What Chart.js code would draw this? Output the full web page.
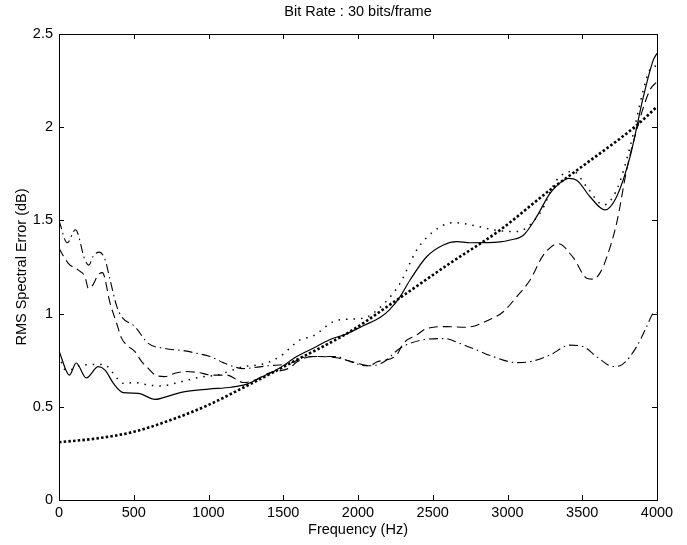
<!DOCTYPE html>
<html>
<head>
<meta charset="utf-8">
<script src="https://cdn.jsdelivr.net/npm/chart.js@4.4.0/dist/chart.umd.min.js"></script>
<style>
  html, body { margin: 0; padding: 0; background: #fff; }
  #c { display: block; }
</style>
</head>
<body>
<canvas id="c" width="687" height="545"></canvas>
<script>
// Tick values
const xTicks = [0, 500, 1000, 1500, 2000, 2500, 3000, 3500, 4000];
const yTicks = [0, 0.5, 1, 1.5, 2, 2.5];

// Solid curve
const solidFreq = [0, 70, 115, 182, 263, 308, 364, 430, 530, 642, 753, 843, 1000, 1150, 1250, 1370, 1480, 1590, 1700, 1810, 1920, 2035, 2150, 2210, 2281, 2348, 2459, 2571, 2660, 2750, 2950, 3017, 3106, 3195, 3284, 3350, 3410, 3463, 3552, 3652, 3730, 3820, 3909, 3975, 4000];
const solidErr  = [0.80, 0.67, 0.735, 0.655, 0.715, 0.697, 0.626, 0.576, 0.572, 0.540, 0.563, 0.581, 0.595, 0.605, 0.62, 0.665, 0.71, 0.77, 0.814, 0.86, 0.89, 0.935, 0.98, 1.02, 1.09, 1.18, 1.305, 1.368, 1.386, 1.38, 1.385, 1.395, 1.42, 1.52, 1.645, 1.70, 1.725, 1.716, 1.627, 1.556, 1.627, 1.842, 2.164, 2.36, 2.396];

// Sparse dotted curve
const dotFreq = [0, 40, 80, 130, 263, 308, 353, 430, 508, 597, 686, 775, 843, 950, 1055, 1233, 1367, 1478, 1612, 1700, 1835, 1924, 2035, 2169, 2281, 2392, 2504, 2638, 2816, 2905, 3061, 3217, 3329, 3440, 3530, 3641, 3730, 3820, 3909, 3953, 4000];
const dotErr  = [0.78, 0.70, 0.70, 0.72, 0.727, 0.725, 0.689, 0.626, 0.63, 0.617, 0.612, 0.626, 0.64, 0.66, 0.67, 0.715, 0.73, 0.77, 0.859, 0.88, 0.957, 0.97, 0.975, 1.05, 1.162, 1.34, 1.44, 1.488, 1.466, 1.449, 1.44, 1.538, 1.717, 1.763, 1.68, 1.583, 1.663, 1.895, 2.2, 2.31, 2.33];

// Dashed curve
const dashFreq = [0, 62, 129, 174, 196, 219, 263, 290, 342, 386, 419, 452, 508, 553, 597, 642, 708, 775, 843, 920, 1032, 1122, 1190, 1233, 1300, 1400, 1546, 1590, 1700, 1856, 1923, 2035, 2080, 2124, 2258, 2303, 2392, 2459, 2593, 2727, 2860, 2972, 3061, 3151, 3240, 3340, 3440, 3530, 3575, 3620, 3663, 3730, 3797, 3864, 3953, 4000];
const dashErr  = [1.35, 1.27, 1.233, 1.198, 1.136, 1.145, 1.208, 1.22, 1.055, 0.947, 0.867, 0.832, 0.796, 0.742, 0.706, 0.671, 0.662, 0.68, 0.689, 0.685, 0.67, 0.67, 0.645, 0.63, 0.64, 0.68, 0.71, 0.74, 0.77, 0.763, 0.75, 0.725, 0.72, 0.74, 0.777, 0.84, 0.885, 0.92, 0.93, 0.927, 0.96, 1.01, 1.09, 1.18, 1.314, 1.375, 1.30, 1.19, 1.185, 1.22, 1.30, 1.485, 1.77, 1.985, 2.2, 2.244];

// Dash-dot curve
const dashDotFreq = [0, 55, 110, 174, 200, 230, 270, 308, 342, 386, 419, 508, 597, 708, 843, 920, 1010, 1099, 1166, 1233, 1300, 1400, 1546, 1657, 1857, 1924, 2057, 2150, 2281, 2348, 2437, 2580, 2682, 2793, 2905, 3061, 3151, 3284, 3418, 3507, 3596, 3708, 3764, 3864, 3931, 3976, 4000];
const dashDotErr  = [1.50, 1.38, 1.45, 1.287, 1.26, 1.31, 1.33, 1.29, 1.18, 1.04, 0.983, 0.93, 0.84, 0.813, 0.80, 0.787, 0.77, 0.737, 0.716, 0.705, 0.71, 0.72, 0.733, 0.769, 0.77, 0.75, 0.72, 0.73, 0.814, 0.84, 0.86, 0.866, 0.84, 0.805, 0.769, 0.737, 0.742, 0.778, 0.831, 0.823, 0.769, 0.716, 0.725, 0.823, 0.93, 1.002, 1.006];

// Thick "+" marked curve
const plusFreq = [0, 250, 500, 750, 1000, 1250, 1344, 1567, 1946, 2259, 2615, 2950, 3284, 3500, 3864, 4000];
const plusErr  = [0.31, 0.33, 0.366, 0.43, 0.51, 0.61, 0.648, 0.742, 0.903, 1.073, 1.27, 1.448, 1.663, 1.79, 2.01, 2.11];

function pts(xs, ys) {
  return xs.map((x, i) => ({ x: x, y: ys[i] }));
}

function curve(xs, ys, dash, width) {
  return {
    data: pts(xs, ys),
    borderColor: '#000',
    borderWidth: width,
    borderDash: dash,
    pointRadius: 0,
    fill: false,
    cubicInterpolationMode: 'monotone'
  };
}

// Box around the plot with inward ticks on every side
const frameTicks = {
  id: 'frameTicks',
  afterDraw(chart) {
    const { ctx, chartArea: a, scales: { x, y } } = chart;
    const len = 5;
    ctx.save();
    ctx.strokeStyle = '#000';
    ctx.lineWidth = 1;
    ctx.strokeRect(a.left + 0.5, a.top + 0.5, a.right - a.left, a.bottom - a.top);
    ctx.beginPath();
    xTicks.forEach(v => {
      const px = Math.round(x.getPixelForValue(v)) + 0.5;
      ctx.moveTo(px, a.bottom); ctx.lineTo(px, a.bottom - len);
      ctx.moveTo(px, a.top); ctx.lineTo(px, a.top + len);
    });
    yTicks.forEach(v => {
      const py = Math.round(y.getPixelForValue(v)) + 0.5;
      ctx.moveTo(a.left, py); ctx.lineTo(a.left + len, py);
      ctx.moveTo(a.right, py); ctx.lineTo(a.right - len, py);
    });
    ctx.stroke();
    ctx.restore();
  }
};

const font = { family: 'Liberation Sans, Arial, sans-serif', size: 14.5 };

new Chart(document.getElementById('c'), {
  type: 'line',
  data: {
    datasets: [
      curve(plusFreq, plusErr, [2.5, 2.2], 2.6),
      curve(dotFreq, dotErr, [1.5, 6], 1.5),
      curve(dashFreq, dashErr, [9, 5], 1.1),
      curve(dashDotFreq, dashDotErr, [9, 4, 1.5, 4], 1.1),
      curve(solidFreq, solidErr, [], 1.2)
    ]
  },
  options: {
    responsive: false,
    animation: false,
    layout: { padding: { right: 30 } },
    plugins: {
      legend: { display: false },
      tooltip: { enabled: false },
      title: {
        display: true,
        text: 'Bit Rate : 30 bits/frame',
        fullSize: false,
        color: '#000',
        font: { family: font.family, size: 14.5, weight: 'normal' },
        padding: { top: 3.3, bottom: 13.3 }
      }
    },
    scales: {
      x: {
        type: 'linear',
        min: 0,
        max: 4000,
        afterBuildTicks: s => { s.ticks = xTicks.map(v => ({ value: v })); },
        afterFit: s => { s.height = 45; },
        grid: { display: false, drawTicks: false },
        border: { display: false },
        ticks: { color: '#000', font: font, padding: 4, maxRotation: 0, callback: v => String(v) },
        title: {
          display: true,
          text: 'Frequency (Hz)',
          color: '#000',
          font: font,
          padding: { top: 0, bottom: 6.3 }
        }
      },
      y: {
        min: 0,
        max: 2.5,
        afterBuildTicks: s => { s.ticks = yTicks.map(v => ({ value: v })); },
        afterFit: s => { s.width = 59; },
        grid: { display: false, drawTicks: false },
        border: { display: false },
        ticks: { color: '#000', font: font, padding: 6, callback: v => String(v) },
        title: {
          display: true,
          text: 'RMS Spectral Error (dB)',
          color: '#000',
          font: font,
          padding: { top: 13, bottom: 0 }
        }
      }
    }
  },
  plugins: [frameTicks]
});
</script>
</body>
</html>
